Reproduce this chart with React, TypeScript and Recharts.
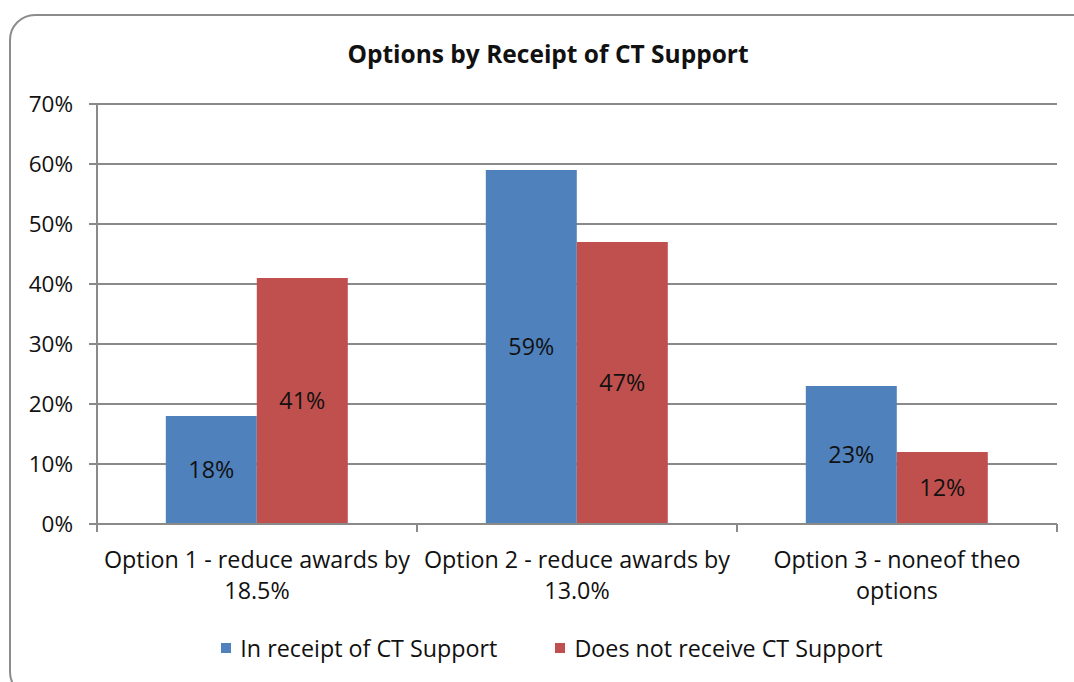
import React from 'react'
import { BarChart, Bar, XAxis, YAxis, CartesianGrid, Legend, LabelList } from 'recharts'

const categories = [
  ['Option 1 - reduce awards by', '18.5%'],
  ['Option 2 - reduce awards by', '13.0%'],
  ['Option 3 - noneof theo', 'options'],
]
const inReceipt = [18, 59, 23]
const notReceive = [41, 47, 12]
const yTicks = [0, 10, 20, 30, 40, 50, 60, 70]

const SERIES = [
  { key: 'inReceipt', name: 'In receipt of CT Support', color: '#4F81BD' },
  { key: 'notReceive', name: 'Does not receive CT Support', color: '#C0504D' },
]

const data = categories.map((lines, i) => ({
  name: lines.join('\n'),
  inReceipt: inReceipt[i],
  notReceive: notReceive[i],
}))

const FONT = '"Open Sans", "Liberation Sans", sans-serif'
const GRID = '#8a8a8a'

const CategoryTick = ({ x, y, payload }: any) => {
  const lines = String(payload.value).split('\n')
  const off = payload.offset || 0
  return (
    <g>
      <line x1={x - off} x2={x - off} y1={y} y2={y + 8} stroke={GRID} strokeWidth={2} />
      <line x1={x + off} x2={x + off} y1={y} y2={y + 8} stroke={GRID} strokeWidth={2} />
      <text textAnchor="middle" fontSize={23.3} fontFamily={FONT} fill="#111">
        {lines.map((l: string, i: number) => (
          <tspan key={i} x={x} y={y + 44 + i * 31}>
            {l}
          </tspan>
        ))}
      </text>
    </g>
  )
}

const LegendContent = () => (
  <div
    style={{
      display: 'flex',
      justifyContent: 'center',
      alignItems: 'center',
      height: 40,
      gap: 58,
      paddingLeft: 30,
      fontFamily: FONT,
      fontSize: 23.3,
      color: '#111',
    }}
  >
    {SERIES.map((s) => (
      <div key={s.key} style={{ display: 'flex', alignItems: 'center' }}>
        <span style={{ width: 10, height: 10, background: s.color, marginRight: 9 }} />
        <span>{s.name}</span>
      </div>
    ))}
  </div>
)

export default function App() {
  return (
    <div style={{ position: 'absolute', left: 0, top: 0, width: 1074, height: 682, overflow: 'hidden', background: '#fff' }}>
      <div
        style={{
          position: 'absolute',
          left: 9,
          top: 14,
          width: 1100,
          height: 680,
          border: '2px solid #8c8c8c',
          borderRadius: 26,
        }}
      />
      <div
        style={{
          position: 'absolute',
          left: 0,
          width: 1096,
          top: 37,
          textAlign: 'center',
          fontFamily: FONT,
          fontWeight: 'bold',
          fontSize: 24.5,
          color: '#111',
        }}
      >
        Options by Receipt of CT Support
      </div>
      <div style={{ position: 'absolute', left: 0, top: 0 }}>
        <BarChart
          width={1074}
          height={682}
          data={data}
          margin={{ top: 104, right: 17, left: 17, bottom: 14 }}
          barGap={0}
          barCategoryGap="21.5%"
        >
          <CartesianGrid horizontal vertical={false} stroke={GRID} strokeWidth={2} />
          <XAxis
            dataKey="name"
            interval={0}
            height={104}
            tickLine={false}
            tickSize={0}
            tickMargin={0}
            axisLine={{ stroke: GRID, strokeWidth: 2 }}
            tick={<CategoryTick />}
          />
          <YAxis
            width={80}
            domain={[0, 70]}
            ticks={yTicks}
            interval={0}
            tickFormatter={(v) => `${v}%`}
            tickSize={8}
            tickMargin={16}
            tickLine={{ stroke: GRID, strokeWidth: 2 }}
            axisLine={{ stroke: GRID, strokeWidth: 2 }}
            tick={{ fontSize: 22.5, fontFamily: FONT, fill: '#111' }}
          />
          <Legend verticalAlign="bottom" content={<LegendContent />} />
          {SERIES.map((s) => (
            <Bar key={s.key} dataKey={s.key} name={s.name} fill={s.color} isAnimationActive={false}>
              <LabelList
                dataKey={s.key}
                position="center"
                formatter={(v: any) => `${v}%`}
                fill="#111"
                fontSize={23.3}
                fontFamily={FONT}
              />
            </Bar>
          ))}
        </BarChart>
      </div>
    </div>
  )
}
